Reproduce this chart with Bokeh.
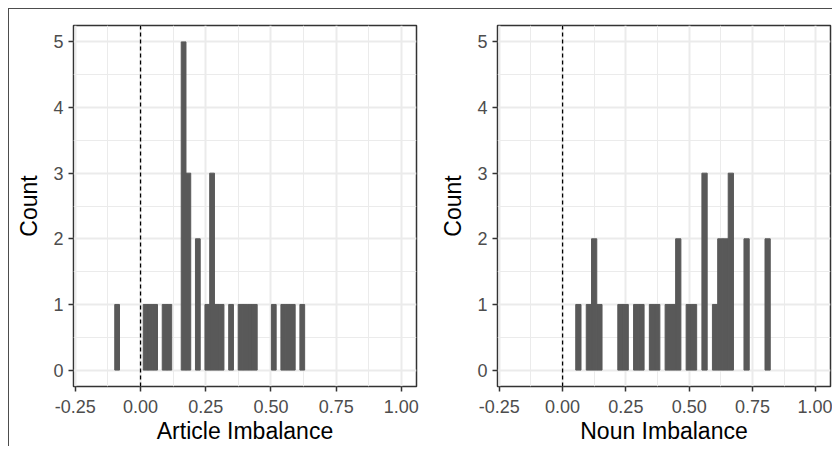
from bokeh.plotting import figure
from bokeh.layouts import row
from bokeh.models import Range1d, FixedTicker, Span
from bokeh.embed import file_html
from bokeh.resources import INLINE

# ---- data (histogram bins) ----
article_bin_start = -0.0988
article_bin_width = 0.0182
article_counts = [1, 0, 0, 0, 0, 0, 1, 1, 1, 0,
                  1, 1, 0, 0, 5, 3, 0, 2, 0, 1,
                  3, 1, 1, 0, 1, 0, 1, 1, 1, 1,
                  0, 0, 0, 1, 0, 1, 1, 1, 0, 1]

noun_bin_start = 0.052
noun_bin_width = 0.02076
noun_counts = [1, 0, 1, 2, 1, 0, 0, 0, 1, 1,
               0, 1, 1, 0, 1, 1, 0, 1, 1, 2,
               0, 1, 1, 0, 3, 0, 1, 2, 2, 3,
               0, 0, 2, 0, 0, 0, 2]

x_ticks = [-0.25, 0.0, 0.25, 0.5, 0.75, 1.0]
x_tick_labels = ["-0.25", "0.00", "0.25", "0.50", "0.75", "1.00"]
x_minor = [-0.125, 0.125, 0.375, 0.625, 0.875]
y_ticks = [0, 1, 2, 3, 4, 5]
y_minor = [0.5, 1.5, 2.5, 3.5, 4.5]
ref_line_x = 0.0

FONT = "Liberation Sans"
BAR = "#595959"


def make_panel(start, width, counts, xlabel, fig_w, mb_left, mb_right):
    p = figure(width=fig_w, height=437,
               x_range=Range1d(-0.257, 1.058), y_range=Range1d(-0.25, 5.25),
               output_backend="svg", toolbar_location=None,
               min_border_left=mb_left, min_border_right=mb_right,
               min_border_top=16, min_border_bottom=45)
    idx = [i for i, c in enumerate(counts) if c > 0]
    lefts = [start + i * width for i in idx]
    rights = [start + (i + 1) * width for i in idx]
    tops = [counts[i] for i in idx]
    p.quad(left=lefts, right=rights, bottom=[0] * len(idx), top=tops,
           fill_color=BAR, line_color=BAR, line_width=1.0)
    p.add_layout(Span(location=ref_line_x, dimension="height",
                      line_color="black", line_width=1.3, line_dash="4 3"))

    p.xaxis.ticker = FixedTicker(ticks=x_ticks, minor_ticks=x_minor)
    p.yaxis.ticker = FixedTicker(ticks=y_ticks, minor_ticks=y_minor)
    p.xaxis.major_label_overrides = {t: l for t, l in zip(x_ticks, x_tick_labels)}

    p.xgrid.grid_line_color = "#EBEBEB"
    p.ygrid.grid_line_color = "#EBEBEB"
    p.xgrid.grid_line_width = 2
    p.ygrid.grid_line_width = 2
    p.xgrid.minor_grid_line_color = "#EBEBEB"
    p.ygrid.minor_grid_line_color = "#EBEBEB"
    p.xgrid.minor_grid_line_width = 1
    p.ygrid.minor_grid_line_width = 1

    for ax in (p.xaxis, p.yaxis):
        ax.axis_line_color = None
        ax.minor_tick_line_color = None
        ax.major_tick_line_color = "#333333"
        ax.major_tick_line_width = 1.5
        ax.major_tick_out = 5
        ax.major_tick_in = 0
        ax.major_label_text_font = FONT
        ax.major_label_text_font_size = "18px"
        ax.major_label_text_color = "#4D4D4D"
        ax.axis_label_text_font = FONT
        ax.axis_label_text_font_size = "23px"
        ax.axis_label_text_font_style = "normal"
        ax.axis_label_text_color = "black"
        ax.major_label_standoff = 5
        ax.axis_label_standoff = 2
    p.xaxis.major_label_standoff = 8
    p.xaxis.axis_label = xlabel
    p.yaxis.axis_label = "Count"
    p.yaxis.axis_label_standoff = 8

    p.outline_line_color = "#333333"
    p.outline_line_width = 1.5
    p.background_fill_color = "white"
    p.border_fill_color = "white"
    return p


p1 = make_panel(article_bin_start, article_bin_width, article_counts,
                "Article Imbalance", 428, 64, 21)
p2 = make_panel(noun_bin_start, noun_bin_width, noun_counts,
                "Noun Imbalance", 395, 52, 2)

layout = row(p1, p2, styles={"border-left": "1px solid #4D4D4D",
                             "border-top": "1px solid #4D4D4D",
                             "margin-left": "8px",
                             "margin-top": "8px"})

open("out.html", "w").write(file_html(layout, INLINE))
